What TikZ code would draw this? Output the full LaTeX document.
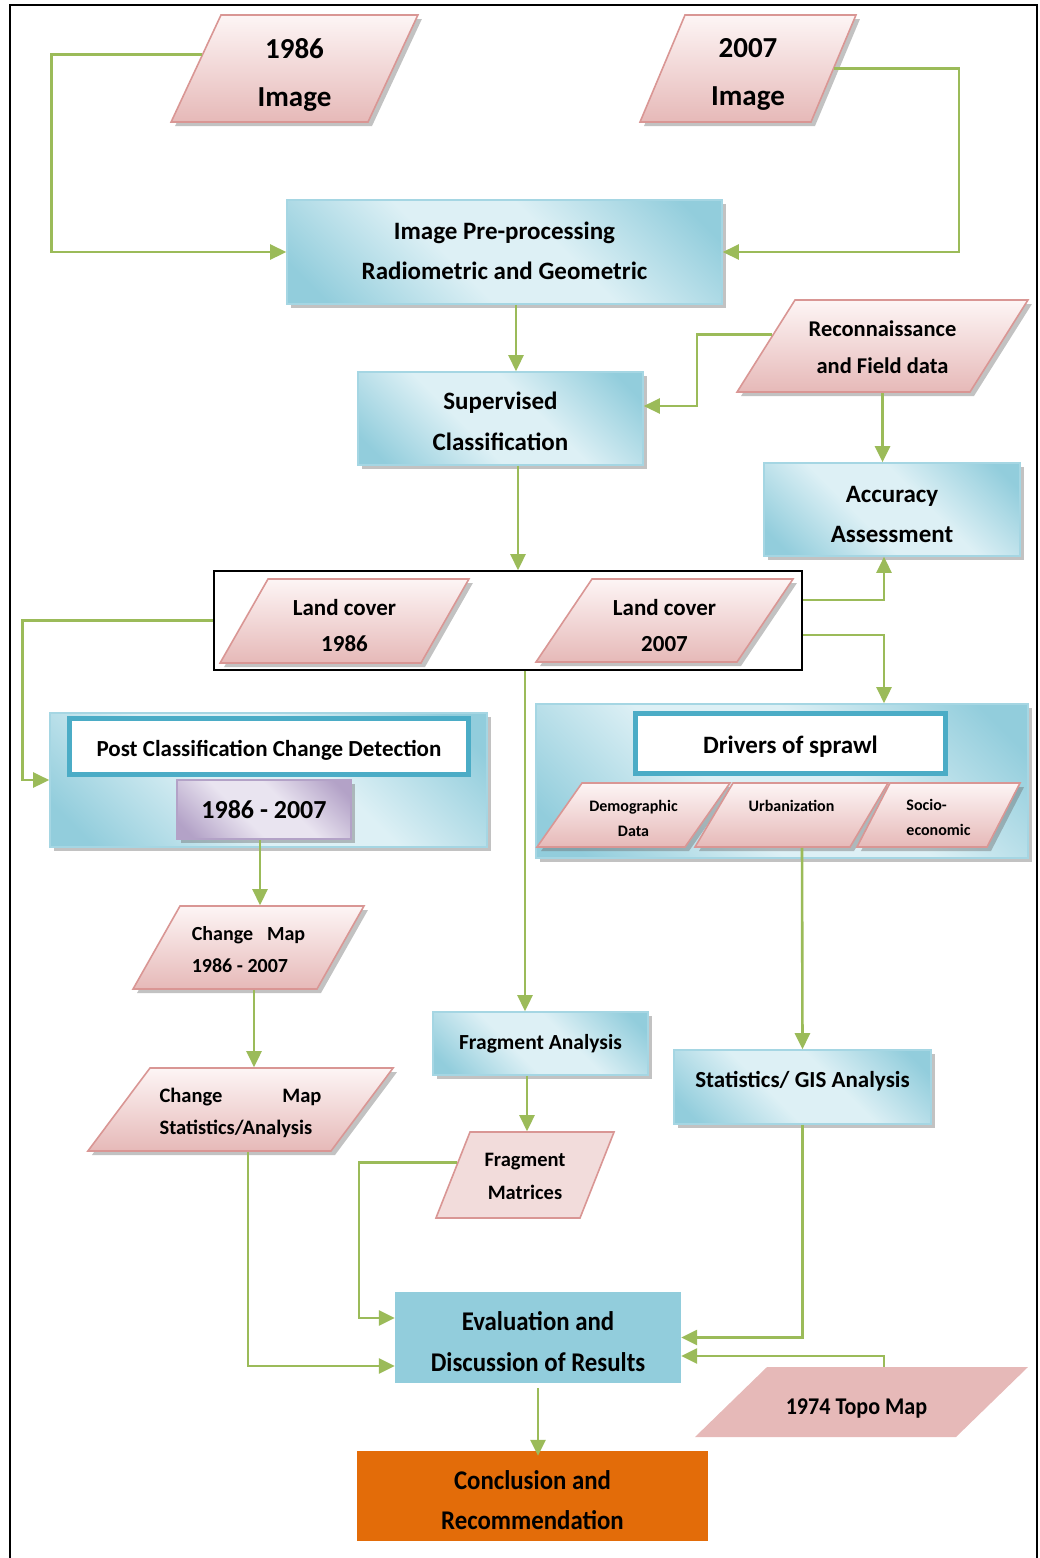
\documentclass[tikz,border=0pt]{standalone}
\usepackage{fontspec}
\setmainfont{Carlito}
\newfontfamily\narrowfont[FakeStretch=0.92]{Carlito}
\usetikzlibrary{arrows.meta, positioning, calc, shapes.geometric, shadows}

\definecolor{pinktop}{HTML}{FDF5F5}
\definecolor{pinkbot}{HTML}{E6B9B8}
\definecolor{pinkline}{HTML}{D99694}
\definecolor{cyanlight}{HTML}{DDF0F5}
\definecolor{cyandark}{HTML}{92CDDC}
\definecolor{cyanline}{HTML}{A5D6E3}
\definecolor{tealline}{HTML}{4BACC6}
\definecolor{purplelight}{HTML}{E9E4F0}
\definecolor{purpledark}{HTML}{B3A2C7}
\definecolor{flowgreen}{HTML}{9BBB59}
\definecolor{orangefill}{HTML}{E36C09}
\definecolor{rosefill}{HTML}{F2DCDB}

\pgfdeclarehorizontalshading{cyanband}{100bp}{color(0bp)=(cyandark); color(20bp)=(cyandark); color(42bp)=(cyanlight); color(58bp)=(cyanlight); color(80bp)=(cyandark); color(100bp)=(cyandark)}
\pgfdeclarehorizontalshading{purpleband}{100bp}{color(0bp)=(purpledark); color(20bp)=(purpledark); color(42bp)=(purplelight); color(58bp)=(purplelight); color(80bp)=(purpledark); color(100bp)=(purpledark)}

% text block: [top space], height, width, lines
\newcommand{\fixbox}[4][0pt]{\parbox[c][#2][c]{#3}{\centering\vspace*{#1}#4}}
\newcommand{\fixboxl}[4][0pt]{\parbox[c][#2][c]{#3}{\centering\vspace*{#1}\begin{tabular}{@{}l@{}}#4\end{tabular}}}

\begin{document}
\begin{tikzpicture}[x=1pt, y=-1pt,
    datain/.style={
        trapezium,
        draw=pinkline,
        line width=1.6pt,
        top color=pinktop,
        bottom color=pinkbot,
        drop shadow={shadow xshift=4pt, shadow yshift=-4pt, fill=black!60, opacity=0.4},
        inner sep=0pt
    },
    procbox/.style={
        rectangle,
        draw=cyanline,
        line width=1.6pt,
        shading=cyanband,
        shading angle=45,
        drop shadow={shadow xshift=4pt, shadow yshift=-4pt, fill=black!60, opacity=0.4},
        inner sep=0pt
    },
    headbox/.style={
        rectangle,
        draw=tealline,
        line width=5pt,
        fill=white,
        inner sep=0pt
    },
    groupbox/.style={rectangle, draw=black, line width=1.6pt, inner sep=0pt},
    flatbox/.style={rectangle, inner sep=0pt},
    flow/.style={draw=flowgreen, line width=2.6pt, -{Triangle[length=16pt, width=15pt]}}
]
\useasboundingbox (0,0) rectangle (1040,1558);

% page frame
\draw[line width=2.5pt] (10,1570) -- (10,5) -- (1037,5) -- (1037,1570);

% input images
\node[datain, trapezium left angle=65, trapezium right angle=115,
      font=\fontsize{29}{48}\selectfont\bfseries] (img86) at (294.5,68.5) {\fixbox[12pt]{107pt}{147pt}{1986\\Image}};
\node[datain, trapezium left angle=67.2, trapezium right angle=112.8,
      font=\fontsize{29}{48}\selectfont\bfseries] (img07) at (748,68.5) {\fixbox[12pt]{107pt}{126pt}{2007\\Image}};

% pre-processing and classification
\node[procbox, minimum width=435pt, minimum height=104pt, font=\fontsize{25}{40}\selectfont\bfseries]
      (prep) at (504.5,252) {\fixbox[-3pt]{104pt}{420pt}{Image Pre-processing\\Radiometric and Geometric}};
\node[procbox, minimum width=285pt, minimum height=93pt, font=\fontsize{25}{41}\selectfont\bfseries]
      (superv) at (500.5,418.5) {\fixbox[6pt]{93pt}{270pt}{Supervised\\Classification}};
\node[datain, trapezium left angle=57.8, trapezium right angle=122.2,
      font=\fontsize{22.5}{37}\selectfont\bfseries] (recon) at (882.5,346) {\fixbox[2pt]{92pt}{175pt}{Reconnaissance\\and Field data}};
\node[procbox, minimum width=256pt, minimum height=93pt, font=\fontsize{25}{40}\selectfont\bfseries]
      (acc) at (892,509.5) {\fixbox[10pt]{93pt}{240pt}{Accuracy\\Assessment}};

% land cover maps
\node[groupbox, minimum width=588pt, minimum height=99pt] (lcgroup) at (508,620.5) {};
\node[datain, trapezium left angle=60.3, trapezium right angle=119.7,
      font=\fontsize{23}{36}\selectfont\bfseries] (lc86) at (344.5,621) {\fixbox[10pt]{84pt}{153pt}{Land cover\\1986}};
\node[datain, trapezium left angle=56, trapezium right angle=124,
      font=\fontsize{23}{36}\selectfont\bfseries] (lc07) at (664.5,620.5) {\fixbox[10pt]{83pt}{145pt}{Land cover\\2007}};

% change detection
\node[procbox, minimum width=437pt, minimum height=134pt] (postcd) at (268.5,780) {};
\node[headbox, minimum width=399pt, minimum height=56pt, font=\fontsize{23}{30}\selectfont\bfseries]
      (pcdhead) at (269,746.5) {\fixbox[8pt]{56pt}{390pt}{Post Classification Change Detection}};
\node[flatbox, draw=purpledark, line width=1.6pt, shading=purpleband, shading angle=45,
      drop shadow={shadow xshift=4pt, shadow yshift=-4pt, fill=black!60, opacity=0.4},
      minimum width=174pt, minimum height=59pt, font=\fontsize{26}{32}\selectfont\bfseries]
      (pcdyear) at (264,809.5) {1986 - 2007};

% drivers of sprawl
\node[procbox, minimum width=492pt, minimum height=154pt] (drivers) at (782,781) {};
\node[headbox, minimum width=310pt, minimum height=60pt, font=\fontsize{25}{32}\selectfont\bfseries]
      (drvhead) at (790.5,743.5) {\fixbox[6pt]{60pt}{300pt}{Drivers of sprawl}};
\node[datain, trapezium left angle=54.9, trapezium right angle=125.1,
      font=\fontsize{16}{25}\selectfont\bfseries] (demog) at (633.5,815) {\fixbox[6pt]{64pt}{103pt}{Demographic\\Data}};
\node[datain, trapezium left angle=59.3, trapezium right angle=120.7,
      font=\fontsize{16}{25}\selectfont\bfseries] (urban) at (791.5,815) {\fixbox[6pt]{64pt}{117pt}{Urbanization\\\mbox{}}};
\node[datain, trapezium left angle=62.7, trapezium right angle=117.3,
      font=\fontsize{16}{25}\selectfont\bfseries] (socio) at (938.5,815) {\fixboxl[6pt]{64pt}{97pt}{Socio-\\economic}};

% change maps
\node[datain, trapezium left angle=60.5, trapezium right angle=119.5,
      font=\fontsize{20}{32}\selectfont\bfseries] (chmap) at (248.5,947.5) {\fixboxl[6pt]{83pt}{137pt}{Change\hspace{14pt}Map\\1986 - 2007}};
\node[datain, trapezium left angle=53.2, trapezium right angle=126.8,
      font=\fontsize{20.5}{32}\selectfont\bfseries] (chstat) at (240.5,1109.5) {\fixboxl[6pt]{83pt}{181pt}{Change\hspace{60pt}Map\\Statistics/Analysis}};

% fragmentation
\node[procbox, minimum width=215pt, minimum height=63pt, font=\fontsize{21.5}{30}\selectfont\bfseries]
      (fraga) at (540.5,1043.5) {Fragment Analysis};
\node[trapezium, trapezium left angle=68.4, trapezium right angle=111.6,
      draw=pinkline, line width=1.6pt, fill=rosefill, inner sep=0pt,
      font=\fontsize{20.5}{33}\selectfont\bfseries] (fragm) at (525,1175) {\fixbox[2pt]{86pt}{110pt}{Fragment\\Matrices}};
\node[procbox, minimum width=257pt, minimum height=74pt, font=\fontsize{23}{30}\selectfont\bfseries]
      (stats) at (802.5,1087) {\raisebox{0pt}[0pt][0pt]{Statistics/ GIS Analysis}};

% results
\node[flatbox, fill=cyandark, minimum width=286pt, minimum height=91pt, font=\narrowfont\fontsize{27}{41}\selectfont\bfseries]
      (evalr) at (538,1337.5) {\fixbox[8pt]{91pt}{280pt}{Evaluation and\\Discussion of Results}};
\node[trapezium, trapezium left angle=44.2, trapezium right angle=135.8,
      fill=pinkbot, inner sep=0pt, font=\narrowfont\fontsize{24}{30}\selectfont\bfseries]
      (topo) at (861.5,1402) {\fixbox[12pt]{70pt}{189pt}{\hspace*{-10pt}1974 Topo Map}};
\node[flatbox, fill=orangefill, minimum width=351pt, minimum height=90pt, font=\narrowfont\fontsize{27}{40}\selectfont\bfseries]
      (concl) at (532.5,1496) {\fixbox[8pt]{90pt}{340pt}{Conclusion and\\Recommendation}};

% connectors
\draw[flow] ($(img86.top left corner)!.37!(img86.bottom left corner)$) -| ([xshift=-235pt]prep.west) -- (prep.west);
\draw[flow] (img07.east) -| ([xshift=236pt]prep.east) -- (prep.east);
\draw[flow] ([xshift=11.5pt]prep.south) -- ([xshift=11.5pt]prep.south |- superv.north);
\draw[flow] ($(recon.top left corner)!.38!(recon.bottom left corner)$) -| ([xshift=53pt,yshift=12.5pt]superv.east) -- ([yshift=12.5pt]superv.east);
\draw[flow] (recon.south) -- (recon.south |- acc.north);
\draw[flow] ([xshift=17.5pt]superv.south) -- ([xshift=17.5pt]superv.south |- lcgroup.north);
\draw[flow] ([yshift=20.5pt]lcgroup.east) -| ([xshift=-8pt]acc.south);
\draw[flow] ([yshift=-14.5pt]lcgroup.east) -| ([xshift=102pt]drivers.north);
\draw[flow] (lcgroup.west) -| ([xshift=-27pt]postcd.west) -- (postcd.west);
\draw[flow] ([xshift=17pt]lcgroup.south) -- ([xshift=-15.5pt]fraga.north);
\draw[flow] ([xshift=-4pt]pcdyear.south) -- ([xshift=-4pt]pcdyear.south |- chmap.north);
\draw[flow] ([xshift=5.5pt]chmap.south) -- ([xshift=5.5pt]chmap.south |- chstat.north);
\draw[flow] ([xshift=10.5pt]urban.south) -- (stats.north);
\draw[flow] ([xshift=-13.5pt]fraga.south) -- ([xshift=-13.5pt]fraga.south |- fragm.north);
\draw[flow] ([xshift=7.5pt]chstat.south) |- ([yshift=-28.5pt]evalr.west);
\draw[flow] ($(fragm.top left corner)!.36!(fragm.bottom left corner)$) -| ([xshift=-36pt,yshift=19.5pt]evalr.west) -- ([yshift=19.5pt]evalr.west);
\draw[flow] (stats.south) |- (evalr.east);
\draw[flow] ([xshift=22.5pt]topo.north) |- ([yshift=-18.5pt]evalr.east);
\draw[flow] ([yshift=-5pt]evalr.south) -- ([yshift=-5pt]evalr.south |- concl.north);

\end{tikzpicture}
\end{document}
